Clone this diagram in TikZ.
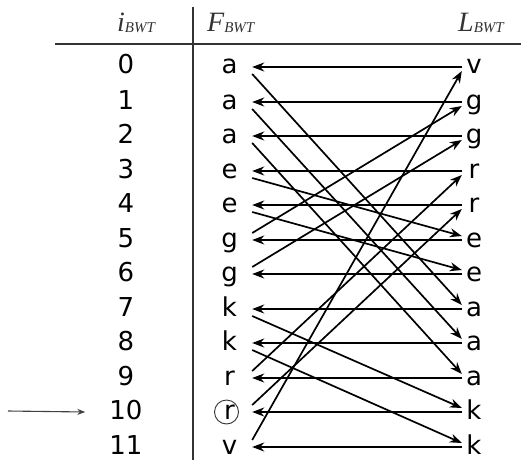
\documentclass[tikz,border=0pt]{standalone}
\usepackage{fontspec}
\setmainfont{DejaVu Sans}
\newfontfamily\hdrfont{Liberation Serif}
\usetikzlibrary{arrows.meta,calc}
\begin{document}
\begin{tikzpicture}[x=1pt,y=-1pt,
  lbl/.style={font=\fontsize{26}{26}\selectfont, inner sep=0pt, text height=14pt, text depth=0pt, anchor=center},
  fcol/.style={lbl, minimum width=45pt},
  lcol/.style={lbl, minimum width=24pt},
  arr/.style={line width=1.7pt, -{Stealth[length=12pt,width=9pt]}},
  rule/.style={draw=black!80, line width=1.3pt},
  ptr/.style={draw=black!75, line width=1.1pt, -{Stealth[length=8pt,width=6pt]}},
  hdr/.style={anchor=base west, inner sep=0pt, text=black!80},
  ring/.style={circle, draw=black!80, line width=0.9pt, minimum size=24pt, inner sep=0pt}]
\useasboundingbox (0,0) rectangle (521,460);
% rules
\coordinate (h0) at (55,44); \coordinate (h1) at (521,44);
\coordinate (v0) at (193,7); \coordinate (v1) at (193,460);
\draw[rule] (h0) -- (h1);
\draw[rule] (v0) -- (v1);
% headers
\node[hdr] (hi) at (117,32) {\hdrfont\fontsize{28}{28}\selectfont\itshape i\raisebox{-1pt}{\fontsize{15}{15}\selectfont BWT}};
\node[hdr] (hF) at (207,32) {\hdrfont\fontsize{28}{28}\selectfont\itshape F\raisebox{-1pt}{\fontsize{15}{15}\selectfont BWT}};
\node[hdr] (hL) at (458,32) {\hdrfont\fontsize{28}{28}\selectfont\itshape L\raisebox{-1pt}{\fontsize{15}{15}\selectfont BWT}};
% rows
\foreach \f/\l [count=\k from 0] in {a/v,a/g,a/g,e/r,e/r,g/e,g/e,k/a,k/a,r/a,r/k,v/k}{
  \pgfmathsetmacro\yy{round(67+34.5*\k)}
  \node[lbl] (i\k) at (126,\yy) {\k};
  \node[fcol] (F\k) at (229.5,\yy) {\f};
  \node[lcol] (L\k) at (474,\yy) {\l};
}
% horizontal arrows L -> F
\foreach \k in {0,...,11}{
  \draw[arr] (L\k.west) -- (F\k.east);
}
% diagonal arrows F -> L
\foreach \a/\b in {0/7,1/8,2/9,3/5,4/6,5/1,6/2,7/10,8/11,9/3,10/4,11/0}{
  \ifnum\a<\b
    \draw[arr] ([yshift=-7pt]F\a.east) -- ([yshift=4pt]L\b.west);
  \else
    \draw[arr] ([yshift=7pt]F\a.east) -- ([yshift=-4pt]L\b.west);
  \fi
}
% circle around r at row 10
\node[ring] (c10) at ([xshift=-3pt]F10.center) {};
% pointer to row 10
\coordinate (p0) at (8,411);
\draw[ptr] (p0) -- ([xshift=-24pt]i10.west);
\end{tikzpicture}
\end{document}
